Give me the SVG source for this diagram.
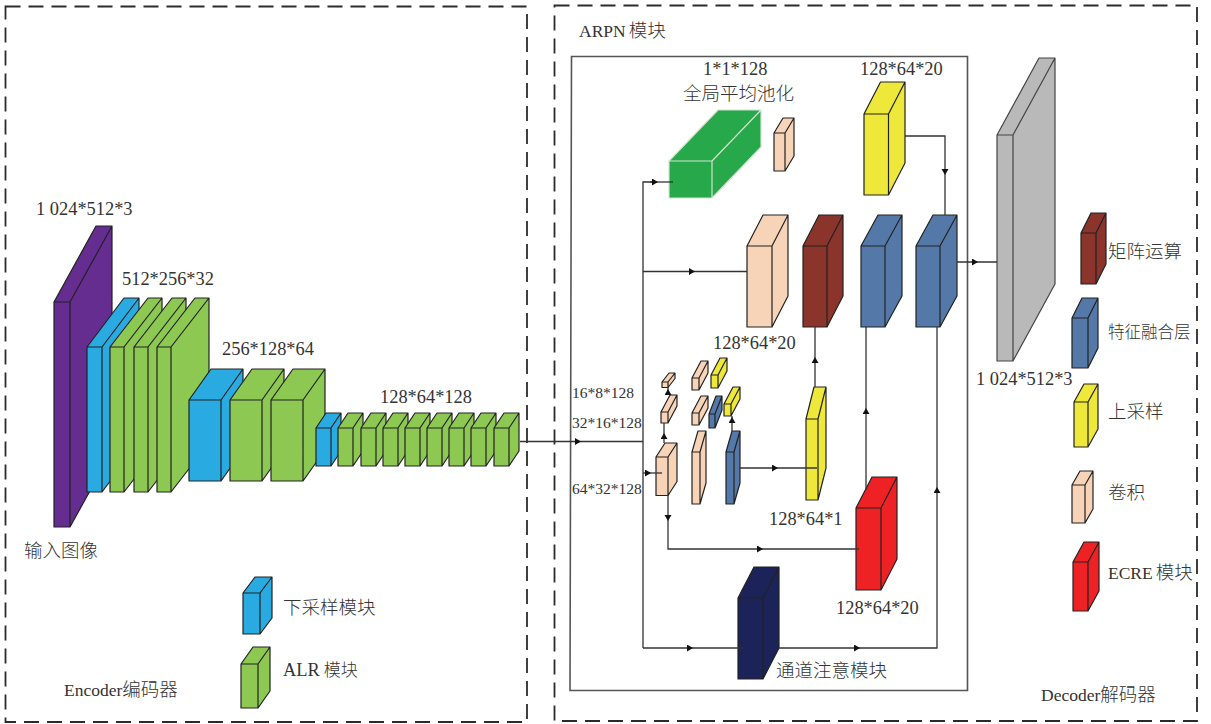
<svg xmlns="http://www.w3.org/2000/svg" width="1211" height="724" viewBox="0 0 1211 724">
<style>
text{font-family:"Liberation Serif","Noto Sans CJK SC",serif;fill:#333;font-size:18.4px}
.s{font-size:15.5px}
.c{font-size:18.500px;font-family:"Noto Sans CJK SC","Liberation Serif",serif;font-weight:300}
.m{font-size:17.500px}
.d{fill:none;stroke:#2b2b2b;stroke-width:1.8;stroke-dasharray:15 8}
.box{fill:none;stroke:#555;stroke-width:1.6}
.b{stroke:#222;stroke-width:1.2;stroke-linejoin:round}
.pu{fill:#662d91}.bl{fill:#29abe2}.gr{fill:#8dc853}.ye{fill:#eee83a}.pe{fill:#f7d3b8}.dr{fill:#8a342c}.st{fill:#5479a8}.re{fill:#ee2224}.na{fill:#1b2359}.gy{fill:#b9b9b9;stroke:#444}
.gn{fill:#27a84a;stroke:#cfe5cf}
.l,.p{fill:none;stroke:#333;stroke-width:1.3}
.l{marker-mid:url(#a)}
</style>
<defs><marker id="a" markerWidth="8" markerHeight="8" refX="3" refY="3.5" orient="auto" markerUnits="userSpaceOnUse"><path d="M0 0L6 3.5L0 7z" fill="#111"/></marker></defs>
<rect class="d" x="5.500" y="6.500" width="521.500" height="715.500"/>
<rect class="d" x="554.500" y="5.500" width="642.500" height="715.500"/>
<path class="box" d="M571.500 56.500H967.500V690.500H570z"/>
<g id="encoder">
<path id="input" class="b pu" d="M54 302h16v225h-16zl42 -76h16l-42 76zm16 225l42 -76v-225l-42 76z"/>
<path id="e-b1" class="b bl" d="M87 347h15v145h-15zl37 -49h15l-37 49zm15 145l37 -49v-145l-37 49z"/>
<path id="e-g1" class="b gr" d="M110 347h14v145h-14zl38 -49h14l-38 49zm14 145l38 -49v-145l-38 49z"/>
<path id="e-g2" class="b gr" d="M134 347h14v145h-14zl38 -49h14l-38 49zm14 145l38 -49v-145l-38 49z"/>
<path id="e-g3" class="b gr" d="M157 347h14v145h-14zl38 -49h14l-38 49zm14 145l38 -49v-145l-38 49z"/>
<path id="e-b2" class="b bl" d="M189 400h32v81h-32zl22 -31h32l-22 31zm32 81l22 -31v-81l-22 31z"/>
<path id="e-g4" class="b gr" d="M230 400h32v81h-32zl22 -31h32l-22 31zm32 81l22 -31v-81l-22 31z"/>
<path id="e-g5" class="b gr" d="M271 400h32v81h-32zl22 -31h32l-22 31zm32 81l22 -31v-81l-22 31z"/>
<path id="e-b3" class="b bl" d="M316 428h15v38h-15zl10 -15h15l-10 15zm15 38l10 -15v-38l-10 15z"/>
<path id="e-g6" class="b gr" d="M338 428h15v38h-15zl10 -15h15l-10 15zm15 38l10 -15v-38l-10 15z"/>
<path id="e-g7" class="b gr" d="M361 428h15v38h-15zl10 -15h15l-10 15zm15 38l10 -15v-38l-10 15z"/>
<path id="e-g8" class="b gr" d="M383 428h15v38h-15zl10 -15h15l-10 15zm15 38l10 -15v-38l-10 15z"/>
<path id="e-g9" class="b gr" d="M405 428h15v38h-15zl10 -15h15l-10 15zm15 38l10 -15v-38l-10 15z"/>
<path id="e-g10" class="b gr" d="M427 428h15v38h-15zl10 -15h15l-10 15zm15 38l10 -15v-38l-10 15z"/>
<path id="e-g11" class="b gr" d="M449 428h15v38h-15zl10 -15h15l-10 15zm15 38l10 -15v-38l-10 15z"/>
<path id="e-g12" class="b gr" d="M471 428h15v38h-15zl10 -15h15l-10 15zm15 38l10 -15v-38l-10 15z"/>
<path id="e-g13" class="b gr" d="M494 428h15v38h-15zl10 -15h15l-10 15zm15 38l10 -15v-38l-10 15z"/>
</g>
<g id="arpn">
<path id="pool" class="b gn" d="M669 161h43v37h-43zl49 -51h43l-49 51zm43 37l49 -51v-37l-49 51z"/>
<path id="pool-conv" class="b pe" d="M774 133h11v38h-11zl9 -15h11l-9 15zm11 38l9 -15v-38l-9 15z"/>
<path id="y-top" class="b ye" d="M864 114h24.500v81h-24.500zl16.500 -32h24.500l-16.500 32zm24.500 81l16.500 -32v-81l-16.500 32z"/>
<path id="p-big" class="b pe" d="M747 246h25v81h-25zl16 -31h25l-16 31zm25 81l16 -31v-81l-16 31z"/>
<path id="matrix" class="b dr" d="M803 246h24v81h-24zl16 -31h24l-16 31zm24 81l16 -31v-81l-16 31z"/>
<path id="fuse1" class="b st" d="M861 246h24v81h-24zl17 -31h24l-17 31zm24 81l17 -31v-81l-17 31z"/>
<path id="fuse2" class="b st" d="M916 246h24v81h-24zl17 -31h24l-17 31zm24 81l17 -31v-81l-17 31z"/>
<path id="p1" class="b pe" d="M662 382h6v5.500h-6zl7 -9h6l-7 9zm6 5.500l7 -9v-5.500l-7 9z"/>
<path id="p2" class="b pe" d="M661 412h7v11h-7zl9 -17h7l-9 17zm7 11l9 -17v-11l-9 17z"/>
<path id="p3" class="b pe" d="M656 457h12v38.500h-12zl9 -14h12l-9 14zm12 38.500l9 -14v-38.500l-9 14z"/>
<path id="p4" class="b pe" d="M692 378h7v12h-7zl9 -17h7l-9 17zm7 12l9 -17v-12l-9 17z"/>
<path id="y1" class="b ye" d="M711 375h7v13h-7zl9 -17h7l-9 17zm7 13l9 -17v-13l-9 17z"/>
<path id="p5" class="b pe" d="M692 413h7v12h-7zl9 -17h7l-9 17zm7 12l9 -17v-12l-9 17z"/>
<path id="b1" class="b st" d="M709 414h6v14h-6zl7 -18h6l-7 18zm6 14l7 -18v-14l-7 18z"/>
<path id="y2" class="b ye" d="M724 404h7v12h-7zl9 -17h7l-9 17zm7 12l9 -17v-12l-9 17z"/>
<path id="p6" class="b pe" d="M692 452h8v52h-8zl6 -21h8l-6 21zm8 52l6 -21v-52l-6 21z"/>
<path id="b2" class="b st" d="M726 452h8v52h-8zl6 -21h8l-6 21zm8 52l6 -21v-52l-6 21z"/>
<path id="y3" class="b ye" d="M806 419h12v81h-12zl8 -32h12l-8 32zm12 81l8 -32v-81l-8 32z"/>
<path id="ecre" class="b re" d="M856 508h25v82h-25zl16 -31h25l-16 31zm25 82l16 -31v-82l-16 31z"/>
<path id="attention" class="b na" d="M738 598h25v81h-25zl16 -31h25l-16 31zm25 81l16 -31v-81l-16 31z"/>
</g>
<path id="output" class="b gy" d="M997 135h16v226h-16zl42 -77h16l-42 77zm16 226l42 -77v-226l-42 77z"/>
<g id="legend">
<path class="b bl" d="M243 593h17v41h-17zl12 -16h17l-12 16zm17 41l12 -16v-41l-12 16z"/>
<path class="b gr" d="M241 664h17v44h-17zl12 -17h17l-12 17zm17 44l12 -17v-44l-12 17z"/>
<path class="b dr" d="M1081 233h15v51h-15zl10 -20h15l-10 20zm15 51l10 -20v-51l-10 20z"/>
<path class="b st" d="M1072 318h16v50h-16zl10 -20h16l-10 20zm16 50l10 -20v-50l-10 20z"/>
<path class="b ye" d="M1074 402h14v45h-14zl10 -18h14l-10 18zm14 45l10 -18v-45l-10 18z"/>
<path class="b pe" d="M1072 485h13v38h-13zl8 -14h13l-8 14zm13 38l8 -14v-38l-8 14z"/>
<path class="b re" d="M1073 562h15v49h-15zl11 -20h15l-11 20zm15 49l11 -20v-49l-11 20z"/>
</g>
<g id="connectors">
<path class="l" d="M520 441.500L578 441.500L643 441.500"/>
<path class="p" d="M643 648V182H655"/>
<path class="l" d="M650 182L655 182L673 182"/>
<path class="l" d="M643 271.500L692 271.500L747 271.500"/>
<path class="l" d="M643 473L648 473L662 473"/>
<path class="l" d="M664 443L664 436L664 423"/>
<path class="l" d="M668 395L668 392L668 387"/>
<path class="l" d="M668 495L668 518L668 540"/>
<path class="p" d="M668 540V549H700"/>
<path class="l" d="M700 549L760 549L859 549"/>
<path class="l" d="M732 431L732 420L732 416"/>
<path class="l" d="M740 468L775 468L817 468"/>
<path class="l" d="M815 387L815 360L815 327"/>
<path class="l" d="M866 490L866 411L866 327"/>
<path class="l" d="M643 648L690 648L743 648"/>
<path class="l" d="M779 648L857 648L920 648"/>
<path class="p" d="M920 648H937V560"/>
<path class="l" d="M937 560L937 490L937 327"/>
<path class="p" d="M905 136H945V150"/>
<path class="l" d="M945 150L945 172L945 215"/>
<path class="l" d="M957 262L975 262L997 262"/>
</g>
<g id="labels">
<text x="36" y="215">1 024*512*3</text>
<text x="122" y="285">512*256*32</text>
<text x="222" y="355">256*128*64</text>
<text x="380" y="403">128*64*128</text>
<text class="c" x="24" y="557">输入图像</text>
<text class="c" x="283" y="614">下采样模块</text>
<text x="283" y="676">ALR<tspan class="c" dx="4" style="font-size:17px">模块</tspan></text>
<text x="64" y="696" class="m">Encoder<tspan class="c">编码器</tspan></text>
<text x="579" y="37" class="m">ARPN<tspan class="c" dx="3">模块</tspan></text>
<text x="703" y="75">1*1*128</text>
<text class="c" x="683" y="100">全局平均池化</text>
<text x="860" y="75">128*64*20</text>
<text x="713" y="349">128*64*20</text>
<text x="976" y="385">1 024*512*3</text>
<text class="s" x="572" y="398">16*8*128</text>
<text class="s" x="572" y="428">32*16*128</text>
<text class="s" x="572" y="494">64*32*128</text>
<text x="769" y="525">128*64*1</text>
<text x="836" y="614">128*64*20</text>
<text class="c" x="776" y="677">通道注意模块</text>
<text class="c" x="1108" y="258">矩阵运算</text>
<text class="c" x="1108" y="338" style="font-size:16.500px">特征融合层</text>
<text class="c" x="1108" y="418">上采样</text>
<text class="c" x="1108" y="499">卷积</text>
<text x="1108" y="579" class="m">ECRE<tspan class="c" dx="3">模块</tspan></text>
<text x="1041" y="701" class="m">Decoder<tspan class="c">解码器</tspan></text>
</g>
</svg>
